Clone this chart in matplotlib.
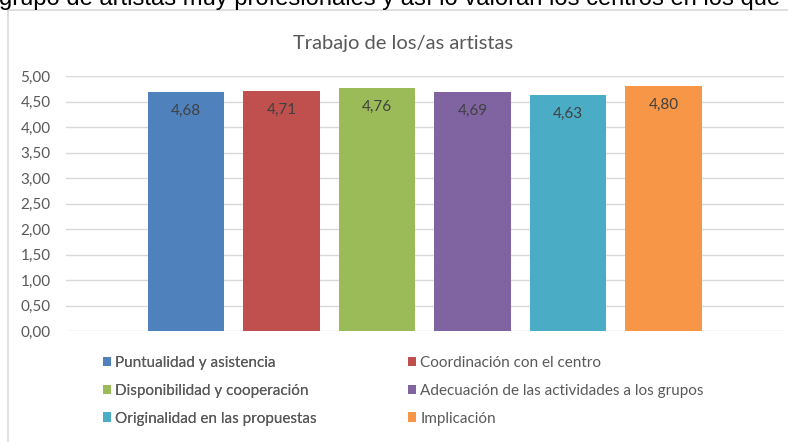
import matplotlib
matplotlib.use("Agg")
import matplotlib.pyplot as plt
from matplotlib.lines import Line2D

# data
categorias = ["Puntualidad y asistencia", "Coordinación con el centro",
              "Disponibilidad y cooperación", "Adecuación de las actividades a los grupos",
              "Originalidad en las propuestas", "Implicación"]
valores = [4.68, 4.71, 4.76, 4.69, 4.63, 4.80]
colores = ["#4F81BD", "#C0504D", "#9BBB59", "#8064A2", "#4BACC6", "#F79646"]
yticks = [0, 0.5, 1, 1.5, 2, 2.5, 3, 3.5, 4, 4.5, 5]

W, H = 788, 442
plt.rcParams['font.family'] = ['Lato', 'DejaVu Sans']
fig = plt.figure(figsize=(W/100, H/100), dpi=100)
fig.patch.set_facecolor("white")

# text of the page above the chart, cut off
fig.text(-1/W, 1 - 5/H, "grupo de artistas muy profesionales y así lo valoran los centros en los que",
         fontsize=17.1, family="Liberation Sans", color="black", ha="left", va="baseline")

# chart frame (left and top)
fig.add_artist(Line2D([8/W, 8/W], [0, 1 - 10/H], transform=fig.transFigure, color="#d9d9d9", lw=1.2))
fig.add_artist(Line2D([8/W, 1], [1 - 10/H, 1 - 10/H], transform=fig.transFigure, color="#d9d9d9", lw=1.2))

ax = fig.add_axes([66/W, 1 - 331/H, (784-66)/W, (331-76)/H])
x = list(range(len(valores)))
bars = ax.bar(x, valores, width=0.8, color=colores, zorder=3)
for xi, v in zip(x, valores):
    ax.annotate(f"{v:.2f}".replace(".", ","), (xi, v), xytext=(0, -19*0.72),
                textcoords="offset points", ha="center", va="center",
                fontsize=11, color="#404040", zorder=4)

ax.set_xlim(-1.257, 6.26)
ax.set_ylim(0, 5)
ax.set_yticks(yticks)
ax.set_yticklabels([f"{t:.2f}".replace(".", ",") for t in yticks], fontsize=11, color="#595959")
ax.set_xticks([])
ax.tick_params(axis="y", length=0, pad=11)
ax.grid(axis="y", color="#d9d9d9", lw=1, zorder=0)
for s in ax.spines.values():
    s.set_visible(False)

fig.text(403/W, 1 - 44/H, "Trabajo de los/as artistas", fontsize=14.5, color="#595959",
         ha="center", va="center")

# legend, two columns
kw = dict(frameon=False, fontsize=11, handlelength=0.55, handleheight=0.55,
          handletextpad=0.25, labelspacing=0.9, borderpad=0, borderaxespad=0,
          labelcolor="#595959")
h = list(bars)
leg1 = fig.legend(h[0::2], categorias[0::2], loc="upper left",
                  bbox_to_anchor=(103/W, 1 - 356/H), **kw)
fig.add_artist(leg1)
fig.legend(h[1::2], categorias[1::2], loc="upper left",
           bbox_to_anchor=(408/W, 1 - 356/H), **kw)

fig.savefig("out.png", dpi=100, facecolor="white")
